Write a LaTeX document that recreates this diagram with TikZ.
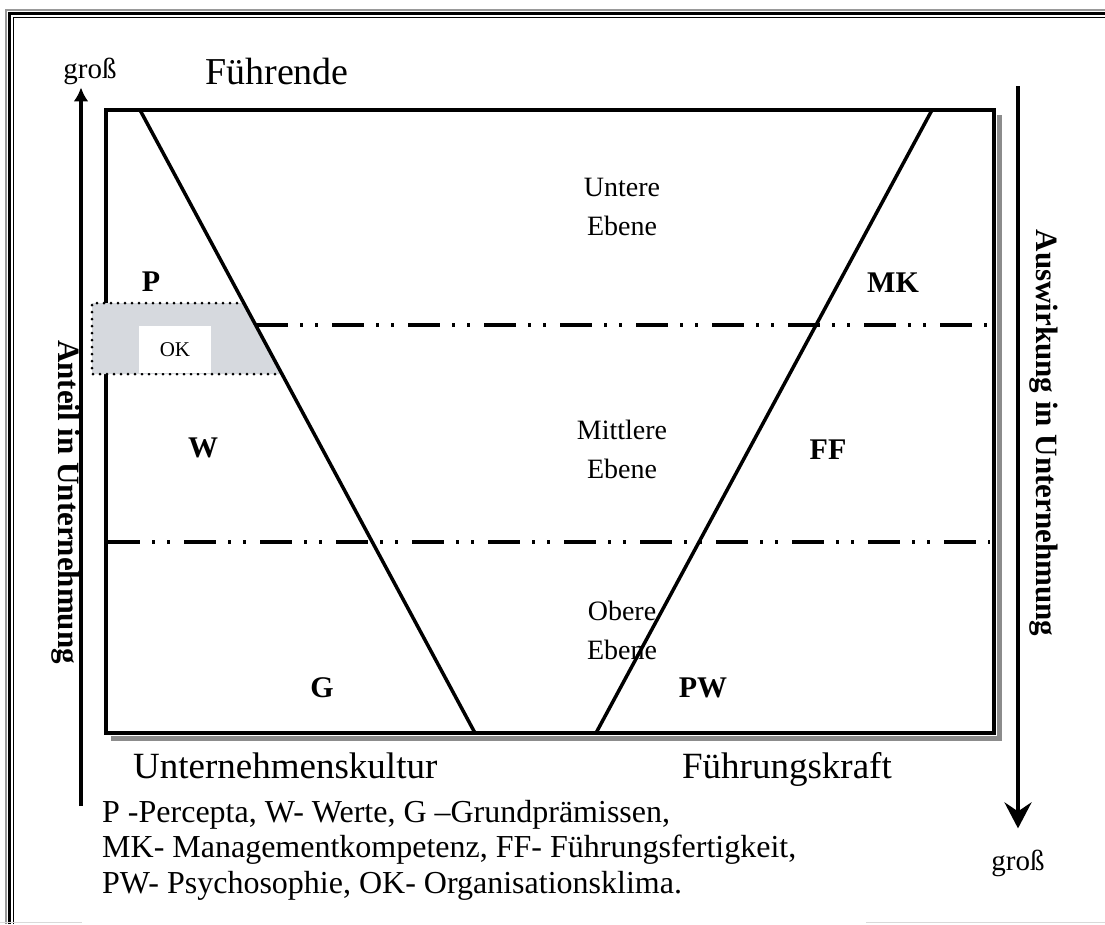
\documentclass[tikz,border=0pt]{standalone}
\usepackage{fontspec}
\setmainfont{Liberation Serif}
\usetikzlibrary{arrows.meta, calc, positioning}
\definecolor{shadowgray}{rgb}{0.55,0.55,0.55}
\definecolor{framegray}{rgb}{0.6,0.6,0.6}
\definecolor{okgray}{rgb}{0.84,0.85,0.87}

\tikzset{
	level/.style={align=center, inner sep=0pt, font=\fontsize{28}{39}\selectfont},
	letter/.style={inner sep=0pt, font=\fontsize{30}{32}\selectfont\bfseries},
	axislabel/.style={inner sep=0pt, rotate=-90, font=\fontsize{31}{34}\selectfont\bfseries},
	side/.style={inner sep=0pt, anchor=base, font=\fontsize{37}{40}\selectfont},
	dashdot/.style={line width=3.5pt, dash pattern=on 32pt off 12pt on 3pt off 12pt on 3pt off 14pt},
}

\begin{document}
\begin{tikzpicture}[x=1pt, y=-1pt]
		\useasboundingbox (0,0) rectangle (1105,924);
		
		%----------------------------------------------------------------
		\draw [framegray, line width=1.5pt] (6,924) -- (6,10) -- (1105,10);
		\draw [line width=2.5pt] (9.5,924) -- (9.5,13.5) -- (1105,13.5);
		\draw [line width=1pt] (13,924) -- (13,17) -- (1105,17);
		\draw [gray!30, line width=1.5pt] (0,922.5) -- (82,922.5);
		\draw [gray!30, line width=1.5pt] (866,922.5) -- (1105,922.5);
		
		%----------------------------------------------------------------
		\draw [shadowgray, line width=5pt] (999,115) -- (999,738) -- (111,738);
		\draw [line width=4pt] (106,110) rectangle (994,733);
		
		\draw [dashdot] (256,325) -- (990,325);
		\draw [dashdot] (108,542) -- (990,542);
		
		%----------------------------------------------------------------
		\fill [okgray] (92,303) -- (243.8,303) -- (282,374) -- (92,374) -- cycle;
		\draw [line width=3pt, line cap=round, dash pattern=on 0pt off 7pt]
		(244,303) -- (92,303) -- (92,374) -- (282,374);
		\node(ok) [fill=white, minimum width=72pt, minimum height=47pt, inner sep=0pt,
			font=\fontsize{21}{22}\selectfont] at (175,349.5) {OK};
		
		\coordinate (kultur top) at (140,110);
		\coordinate (kultur bottom) at (475,733);
		\coordinate (kraft top) at (932,110);
		\coordinate (kraft bottom) at (596,733);
		\draw [line width=3.5pt] (kultur top) -- (kultur bottom);
		\draw [line width=3.5pt] (kraft top) -- (kraft bottom);
		
		%----------------------------------------------------------------
		\node(fuehrende) [side, font=\fontsize{38}{40}\selectfont] at (277,84) {Führende};
		\node(untere) [level] at (622,207) {Untere\\Ebene};
		\node(mittlere) [level] at (622,449) {Mittlere\\Ebene};
		\node(obere) [level] at (622,630) {Obere\\Ebene};
		
		\node(p) [letter] at (151,282) {P};
		\node(mk) [letter] at (893,283) {MK};
		\node(w) [letter] at (203,448) {W};
		\node(ff) [letter] at (828,450) {FF};
		\begin{scope}
			% the G sits in a box that cuts off its foot
			\clip (290,650) rectangle (355,697);
			\node(g) [letter] at (322,688) {G};
		\end{scope}
		\node(pw) [letter] at (703,688) {PW};
		
		\node(kultur) [side, anchor=base west] at (133,778) {Unternehmenskultur};
		\node(kraft) [side, anchor=base east] at (892,778) {Führungskraft};
		
		%----------------------------------------------------------------
		\node(anteil) [axislabel] at (66,502) {Anteil in Unternehmung};
		\node(auswirkung) [axislabel] at (1044,433) {Auswirkung in Unternehmung};
		
		\node(gross top) [inner sep=0pt, anchor=base, font=\fontsize{29}{30}\selectfont] at (90,78) {groß};
		\node(gross bottom) [inner sep=0pt, anchor=base, font=\fontsize{29}{30}\selectfont] at (1018,870) {groß};
		\coordinate (anteil start) at (81,806);
		\coordinate (auswirkung start) at (1018,86);
		\draw [line width=4pt, -{Latex[length=14pt, width=15pt]}, shorten >=3pt]
		(anteil start) -- (anteil start |- gross top.south);
		\draw [line width=4pt, -{Stealth[length=26pt, width=27pt, inset=9pt]}, shorten >=21pt]
		(auswirkung start) -- (gross bottom.north);
		
		%----------------------------------------------------------------
		\node(legend) [inner sep=0pt, anchor=base west, align=left, font=\fontsize{32}{35.5}\selectfont] at (102,893)
		{P -Percepta, W- Werte, G –Grundprämissen,\\
			MK- Managementkompetenz, FF- Führungsfertigkeit,\\
			PW- Psychosophie, OK- Organisationsklima.};
		
\end{tikzpicture}
\end{document}
